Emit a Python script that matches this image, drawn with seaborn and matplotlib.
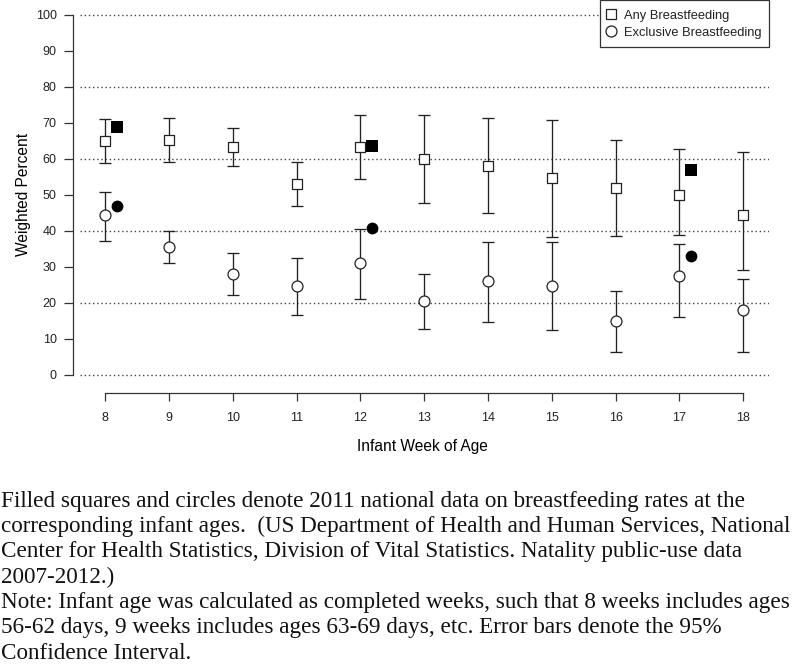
import matplotlib
matplotlib.use("Agg")
import matplotlib.pyplot as plt
from matplotlib.lines import Line2D
import seaborn as sns
import pandas as pd
import numpy as np

# ---------------- data ----------------
weeks = [8, 9, 10, 11, 12, 13, 14, 15, 16, 17, 18]
any_pct = [65.0, 65.1, 63.3, 53.1, 63.3, 59.8, 58.1, 54.6, 51.9, 49.9, 44.4]
any_lo = [58.8, 59.2, 58.1, 46.9, 54.4, 47.6, 44.8, 38.2, 38.5, 38.8, 29.0]
any_hi = [70.9, 71.2, 68.4, 59.2, 72.1, 72.1, 71.4, 70.8, 65.2, 62.7, 61.8]
exc_pct = [44.3, 35.4, 28.0, 24.7, 30.9, 20.6, 26.0, 24.7, 14.9, 27.4, 18.0]
exc_lo = [37.2, 31.0, 22.1, 16.5, 21.1, 12.8, 14.7, 12.5, 6.3, 16.0, 6.3]
exc_hi = [50.7, 39.9, 33.8, 32.5, 40.5, 28.0, 36.9, 36.8, 23.2, 36.3, 26.5]
nat_weeks = [8, 12, 17]
nat_any = [68.9, 63.6, 57.0]
nat_exc = [46.9, 40.8, 32.9]
y_ticks = [0, 10, 20, 30, 40, 50, 60, 70, 80, 90, 100]
grid_levels = [0, 20, 40, 60, 80, 100]
legend_labels = ["Any Breastfeeding", "Exclusive Breastfeeding"]
x_label = "Infant Week of Age"
y_label = "Weighted Percent"
caption_lines = [
    "Filled squares and circles denote 2011 national data on breastfeeding rates at the",
    "corresponding infant ages.  (US Department of Health and Human Services, National",
    "Center for Health Statistics, Division of Vital Statistics. Natality public-use data",
    "2007-2012.)",
    "Note: Infant age was calculated as completed weeks, such that 8 weeks includes ages",
    "56-62 days, 9 weeks includes ages 63-69 days, etc. Error bars denote the 95%",
    "Confidence Interval.",
]

NAT_OFFSET = 0.18

survey = pd.DataFrame({"week": weeks, "any": any_pct, "any_lo": any_lo, "any_hi": any_hi,
                       "exc": exc_pct, "exc_lo": exc_lo, "exc_hi": exc_hi})
national = pd.DataFrame({"week": np.array(nat_weeks) + NAT_OFFSET, "any": nat_any, "exc": nat_exc})

# ---------------- style ----------------
sns.set_theme(style="ticks")
plt.rcParams["font.family"] = ["Liberation Sans", "DejaVu Sans"]

W, H = 800, 664
fig = plt.figure(figsize=(W / 100, H / 100), dpi=100)

def fx(px):
    return px / W

def fy(py):
    return 1 - py / H

ax_left, ax_right, ax_top, ax_bot = 79.5, 768.8, 0.3, 389.1
ax = fig.add_axes([fx(ax_left), fy(ax_bot), fx(ax_right - ax_left), (ax_bot - ax_top) / H])
ax.set_facecolor("white")

INK = "#222222"

# gridlines
for g in grid_levels:
    ax.axhline(g, color="#444444", lw=1.0, ls=(0, (1, 2)), zorder=1)

# error bars
ax.errorbar(survey["week"], survey["any"],
            yerr=[survey["any"] - survey["any_lo"], survey["any_hi"] - survey["any"]],
            fmt="none", ecolor=INK, elinewidth=0.95, capsize=4.6, capthick=0.95, zorder=2)
ax.errorbar(survey["week"], survey["exc"],
            yerr=[survey["exc"] - survey["exc_lo"], survey["exc_hi"] - survey["exc"]],
            fmt="none", ecolor=INK, elinewidth=0.95, capsize=4.6, capthick=0.95, zorder=2)

# survey points (open)
sns.scatterplot(data=survey, x="week", y="any", marker="s", s=52, color="white",
                edgecolor=INK, linewidth=0.9, ax=ax, zorder=3, legend=False)
sns.scatterplot(data=survey, x="week", y="exc", marker="o", s=62, color="white",
                edgecolor=INK, linewidth=0.9, ax=ax, zorder=3, legend=False)
# national points (filled)
sns.scatterplot(data=national, x="week", y="any", marker="s", s=68, color="black",
                edgecolor="black", linewidth=0, ax=ax, zorder=3, legend=False)
sns.scatterplot(data=national, x="week", y="exc", marker="o", s=72, color="black",
                edgecolor="black", linewidth=0, ax=ax, zorder=3, legend=False)

ax.set_xlim(7.6, 18.4)
ax.set_ylim(-4, 104)
ax.set_xticks(weeks)
ax.set_xticklabels([str(w) for w in weeks])
ax.set_yticks(y_ticks)
ax.set_yticklabels([str(v) for v in y_ticks])
ax.set_xlabel("")
ax.set_ylabel("")

for side in ["top", "right"]:
    ax.spines[side].set_visible(False)
ax.spines["left"].set_position(("outward", 4.7))
ax.spines["bottom"].set_position(("outward", 3.0))
ax.spines["left"].set_bounds(0, 100)
ax.spines["bottom"].set_bounds(8, 18)
for side in ["left", "bottom"]:
    ax.spines[side].set_color("#333333")
    ax.spines[side].set_linewidth(0.9)

ax.tick_params(axis="y", length=6.3, width=0.9, color="#333333", pad=5.5,
               labelsize=9.0, labelcolor=INK)
ax.tick_params(axis="x", length=6.0, width=0.9, color="#333333", pad=7.5,
               labelsize=9.0, labelcolor=INK)

# axis labels
fig.text(fx(422.5), fy(446), x_label, ha="center", va="center", fontsize=11.2, color="black")
fig.text(fx(23.5), fy(194.7), y_label, ha="center", va="center", rotation=90,
         fontsize=11.2, color="black")

# legend
handles = [
    Line2D([], [], marker="s", ls="none", markersize=7.3, markerfacecolor="white",
           markeredgecolor=INK, markeredgewidth=0.9),
    Line2D([], [], marker="o", ls="none", markersize=7.9, markerfacecolor="white",
           markeredgecolor=INK, markeredgewidth=0.9),
]
leg = ax.legend(handles, legend_labels, loc="upper right", borderaxespad=0,
                fontsize=9.3, frameon=True, fancybox=False, handlelength=0.62,
                handleheight=1.3, handletextpad=0.64, borderpad=0.6, labelspacing=0.2)
leg.get_frame().set_edgecolor("#333333")
leg.get_frame().set_linewidth(0.9)
leg.get_frame().set_alpha(1)
leg.set_zorder(5)
for t in leg.get_texts():
    t.set_color(INK)

# caption (fit font size so that lines span the target widths)
renderer = fig.canvas.get_renderer()
cap_family = ["Liberation Serif", "DejaVu Serif"]
base_fs = 15.0
widths = []
for line in caption_lines:
    probe = fig.text(0, 0, line, fontsize=base_fs, family=cap_family)
    widths.append(probe.get_window_extent(renderer).width)
    probe.remove()
scale = min(768.0 / widths[0], 793.0 / max(widths))
cap_fs = base_fs * scale
for i, line in enumerate(caption_lines):
    fig.text(fx(1), fy(506.5 + 25.4 * i), line, fontsize=cap_fs, ha="left", va="baseline",
             family=cap_family, color="#111111")

fig.savefig("out.png", dpi=100, facecolor="white")
